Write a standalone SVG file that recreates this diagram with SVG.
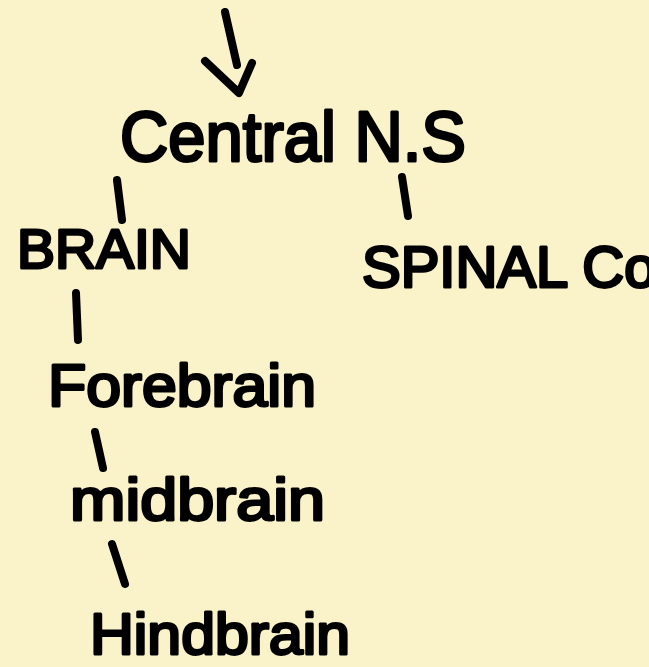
<svg xmlns="http://www.w3.org/2000/svg" width="649" height="667" viewBox="0 0 649 667">
<style>
.t{font-family:"Liberation Sans","Noto Sans",sans-serif;fill:#000;stroke:#000;stroke-width:3;stroke-linejoin:round}
.c{stroke:#000;stroke-width:8;stroke-linecap:round;stroke-linejoin:round;fill:none}
</style>
<rect width="649" height="667" fill="#FAF3C9"/>
<g id="connectors">
<path class="c" d="M225,12 L237,65"/>
<path class="c" d="M205,61 L239,93 L252,63"/>
<path class="c" d="M117,180 L122,220"/>
<path class="c" d="M402,177 L408,216"/>
<path class="c" d="M76,293 L78,340"/>
<path class="c" d="M95,432 L103,468"/>
<path class="c" d="M112,544 L125,584"/>
</g>
<g id="central"><text class="t" x="120" y="161" font-size="70" textLength="346" lengthAdjust="spacingAndGlyphs">Central N.S</text></g>
<g id="brain"><text class="t" x="17" y="268" font-size="56" textLength="174" lengthAdjust="spacingAndGlyphs">BRAIN</text></g>
<g id="spinal"><text class="t" x="362" y="287" font-size="58">SPINAL Cord</text></g>
<g id="forebrain"><text class="t" x="48" y="406" font-size="60" textLength="268" lengthAdjust="spacingAndGlyphs">Forebrain</text></g>
<g id="midbrain"><text class="t" x="70" y="520" font-size="60" textLength="255" lengthAdjust="spacingAndGlyphs">midbrain</text></g>
<g id="hindbrain"><text class="t" x="90" y="654" font-size="58" textLength="260" lengthAdjust="spacingAndGlyphs">Hindbrain</text></g>
</svg>
